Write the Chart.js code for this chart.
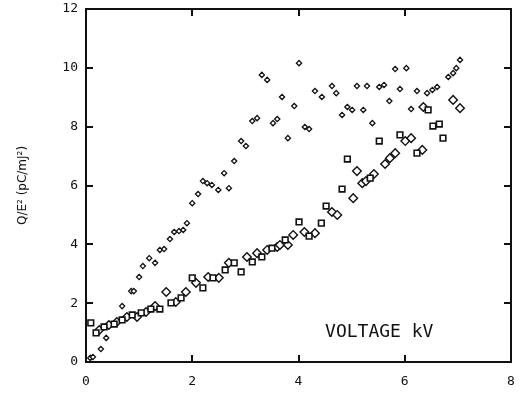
<!DOCTYPE html>
<html>
<head>
<meta charset="utf-8">
<script src="https://cdn.jsdelivr.net/npm/chart.js@4.4.1/dist/chart.umd.min.js"></script>
<style>
  html, body { margin: 0; padding: 0; background: #fff; }
  #wrap { width: 523px; height: 395px; }
</style>
</head>
<body>
<div id="wrap"><canvas id="c" width="523" height="395"></canvas></div>
<script>
// ---- Data ----
const xTicks = [0, 2, 4, 6, 8];
const yTicks = [0, 2, 4, 6, 8, 10, 12];
const yTitle = "Q/E\u00B2 (pC/mJ\u00B2)";
const noteText = "VOLTAGE kV";
const notePos = [5.52, 1.02];

// upper series (small markers)
const upperX = [0.08,0.13,0.28,0.38,0.68,0.85,0.90,1.00,1.07,1.19,1.30,1.39,1.47,1.58,1.66,1.75,1.83,1.90,2.00,2.11,2.20,2.28,2.37,2.49,2.69,2.60,2.79,2.92,3.01,3.13,3.22,3.31,3.41,3.52,3.60,3.69,3.80,3.92,4.01,4.12,4.20,4.31,4.44,4.63,4.71,4.82,4.92,5.01,5.10,5.22,5.29,5.39,5.52,5.61,5.71,5.82,5.91,6.03,6.12,6.23,6.42,6.52,6.61,6.82,6.91,6.97,7.04];
const upperY = [0.14,0.17,0.44,0.82,1.90,2.41,2.41,2.89,3.26,3.53,3.37,3.81,3.84,4.18,4.42,4.45,4.49,4.72,5.40,5.71,6.15,6.08,6.02,5.85,5.91,6.42,6.83,7.51,7.34,8.19,8.29,9.76,9.59,8.12,8.26,9.01,7.61,8.70,10.16,7.99,7.92,9.21,9.01,9.38,9.14,8.40,8.67,8.57,9.38,8.57,9.38,8.12,9.35,9.42,8.87,9.96,9.28,9.99,8.60,9.21,9.14,9.25,9.35,9.69,9.82,9.99,10.27];

// lower series, squares
const squareX = [0.09,0.19,0.34,0.53,0.68,0.87,1.04,1.22,1.39,1.60,1.79,2.00,2.20,2.39,2.62,2.79,2.92,3.13,3.31,3.50,3.75,4.01,4.20,4.43,4.52,4.82,4.92,5.35,5.52,5.91,6.23,6.53,6.65,6.72,6.44];
const squareY = [1.33,0.99,1.19,1.29,1.43,1.60,1.67,1.80,1.80,2.01,2.18,2.86,2.52,2.86,3.13,3.37,3.06,3.40,3.57,3.87,4.15,4.76,4.28,4.72,5.30,5.88,6.90,6.25,7.51,7.72,7.10,8.02,8.09,7.61,8.57];

// lower series, diamonds
const diamondX = [0.25,0.43,0.58,0.77,0.96,1.13,1.30,1.51,1.69,1.88,2.07,2.30,2.50,2.69,3.03,3.22,3.41,3.60,3.65,3.80,3.90,4.11,4.31,4.63,4.73,5.03,5.10,5.20,5.27,5.42,5.63,5.72,5.82,6.01,6.12,6.33,6.35,6.91,7.04];
const diamondY = [1.09,1.26,1.36,1.53,1.53,1.70,1.90,2.38,2.04,2.38,2.69,2.89,2.86,3.37,3.57,3.70,3.81,3.91,3.98,3.98,4.32,4.42,4.38,5.10,5.00,5.57,6.49,6.08,6.15,6.39,6.73,6.93,7.10,7.51,7.61,7.21,8.67,8.91,8.63];

const pts = (xs, ys) => xs.map((x, i) => ({ x: x, y: ys[i] }));

const frame = {
  id: 'frame',
  afterDraw(chart) {
    const ctx = chart.ctx;
    const xs = chart.scales.x, ys = chart.scales.y;
    const l = Math.round(xs.left), r = Math.round(xs.right);
    const t = Math.round(ys.top), b = Math.round(ys.bottom);
    ctx.save();
    ctx.fillStyle = '#111';
    const W = 2, L = 7;
    ctx.fillRect(l - 1, t - 1, r - l + 2, W);
    ctx.fillRect(l - 1, b - 1, r - l + 2, W);
    ctx.fillRect(l - 1, t - 1, W, b - t + 2);
    ctx.fillRect(r - 1, t - 1, W, b - t + 2);
    xs.ticks.forEach(tk => {
      const p = Math.round(xs.getPixelForValue(tk.value));
      ctx.fillRect(p - 1, b - L, W, L);
      ctx.fillRect(p - 1, t, W, L);
    });
    ys.ticks.forEach(tk => {
      const p = Math.round(ys.getPixelForValue(tk.value));
      ctx.fillRect(l, p - 1, L, W);
      ctx.fillRect(r - L, p - 1, L, W);
    });
    ctx.font = '18px "DejaVu Sans Mono"';
    ctx.textAlign = 'center';
    ctx.textBaseline = 'middle';
    ctx.fillText(noteText, xs.getPixelForValue(notePos[0]), ys.getPixelForValue(notePos[1]));
    ctx.restore();
  }
};

new Chart(document.getElementById('c'), {
  type: 'scatter',
  data: {
    datasets: [
      { data: pts(upperX, upperY), pointStyle: 'rectRot', radius: 2.6, borderColor: '#111', backgroundColor: '#fff', borderWidth: 1.3 },
      { data: pts(squareX, squareY), pointStyle: 'rect', radius: 4, borderColor: '#111', backgroundColor: '#fff', borderWidth: 1.6 },
      { data: pts(diamondX, diamondY), pointStyle: 'rectRot', radius: 4.3, borderColor: '#111', backgroundColor: '#fff', borderWidth: 1.4 }
    ]
  },
  options: {
    responsive: false,
    animation: false,
    devicePixelRatio: 1,
    layout: { padding: { top: 9, right: 12, left: 0, bottom: 0 } },
    plugins: { legend: { display: false }, tooltip: { enabled: false } },
    scales: {
      x: {
        type: 'linear', min: 0, max: 8,
        afterBuildTicks: s => { s.ticks = xTicks.map(v => ({ value: v })); },
        afterFit: s => { s.height = 33; s.paddingLeft = 0; s.paddingRight = 0; },
        grid: { display: false, drawTicks: false },
        border: { display: false },
        ticks: { padding: 12, color: '#111', font: { family: 'DejaVu Sans Mono', size: 13 } }
      },
      y: {
        type: 'linear', min: 0, max: 12,
        afterBuildTicks: s => { s.ticks = yTicks.map(v => ({ value: v })); },
        afterFit: s => { s.width = 86; s.paddingTop = 0; s.paddingBottom = 0; },
        grid: { display: false, drawTicks: false },
        border: { display: false },
        ticks: { padding: 8, color: '#111', font: { family: 'DejaVu Sans Mono', size: 13 } },
        title: { display: true, text: yTitle, color: '#111', font: { family: 'DejaVu Sans', size: 12 }, padding: { top: 16, bottom: 0 } }
      }
    }
  },
  plugins: [frame]
});
</script>
</body>
</html>
